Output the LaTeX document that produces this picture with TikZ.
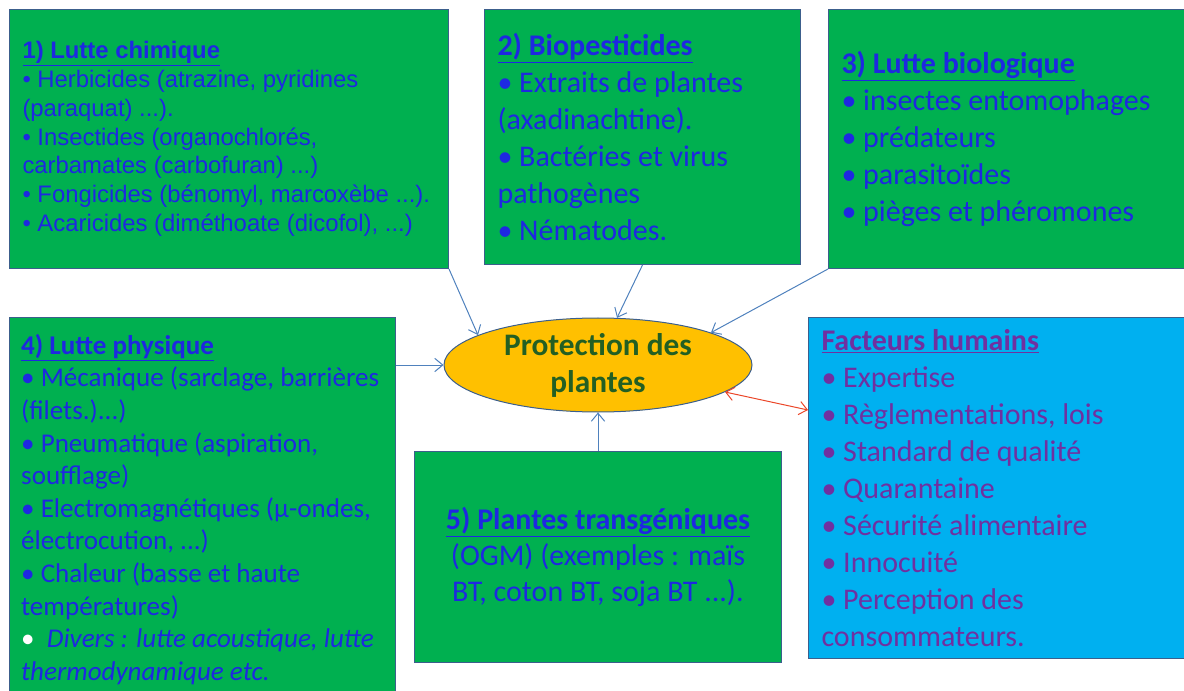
\documentclass[tikz,border=0pt]{standalone}
\usepackage{fontspec}
\setmainfont{Carlito}
\newfontfamily\arialfont{Liberation Sans}
\usetikzlibrary{shapes.geometric,arrows.meta,calc}
\definecolor{vertboite}{RGB}{0,176,80}
\definecolor{bordure}{RGB}{60,95,140}
\definecolor{bleutexte}{RGB}{30,40,225}
\definecolor{cyanboite}{RGB}{0,176,240}
\definecolor{violet}{RGB}{112,48,160}
\definecolor{orangeellipse}{RGB}{255,192,0}
\definecolor{vertfonce}{RGB}{35,95,35}
\definecolor{bleufleche}{RGB}{79,129,189}
\definecolor{rougefleche}{RGB}{235,70,40}
\tikzset{every picture/.style={line width=0.75pt}}
\tikzset{
	boite/.style={draw=bordure, fill=vertboite, anchor=north west, inner xsep=9.75pt, inner ysep=0pt, align=flush left, text=bleutexte},
	pointe/.tip={Straight Barb[length=6pt,width=10pt]},
	fleche/.style={draw=bleufleche, line width=0.75pt, -pointe}}

\begin{document}
\begin{tikzpicture}[x=0.75pt,y=0.75pt,yscale=-1,xscale=1]
	\useasboundingbox (0,0) rectangle (1184,691);

	%Shape: Rectangle [1) Lutte chimique]
	\node [boite, text width=309.75pt, minimum height=194.25pt, font=\arialfont\fontsize{17.9}{21.6}\selectfont] (chim) at (9,9) {\underline{\textbf{1) Lutte chimique}}\\
		• Herbicides (atrazine, pyridines\\
		(paraquat) ...).\\
		• Insectides (organochlorés,\\
		carbamates (carbofuran) ...)\\
		• Fongicides (bénomyl, marcoxèbe ...).\\
		• Acaricides (diméthoate (dicofol), ...)};
	%Shape: Rectangle [2) Biopesticides]
	\node [boite, text width=217.5pt, minimum height=191.25pt, font=\fontsize{22.5}{27.75}\selectfont] (biop) at (484,9) {\underline{\textbf{2) Biopesticides}}\\
		• Extraits de plantes\\
		(axadinachtine).\\
		• Bactéries et virus\\
		pathogènes\\
		• Nématodes.};
	%Shape: Rectangle [3) Lutte biologique]
	\node [boite, text width=255.75pt, minimum height=194.25pt, font=\fontsize{22.5}{27.75}\selectfont] (biol) at (828,9) {\underline{\textbf{3) Lutte biologique}}\\
		• insectes entomophages\\
		• prédateurs\\
		• parasitoïdes\\
		• pièges et phéromones};
	%Shape: Rectangle [4) Lutte physique]
	\node [boite, inner xsep=8.75pt, text width=272pt, minimum height=288pt, font=\fontsize{20.3}{24.45}\selectfont] (phys) at (9,317) {\underline{\textbf{4) Lutte physique}}\\
		• Mécanique (sarclage, barrières\\
		(filets.)...)\\
		• Pneumatique (aspiration,\\
		soufflage)\\
		• Electromagnétiques (µ-ondes,\\
		électrocution, ...)\\
		• Chaleur (basse et haute\\
		températures)\\
		{\color{white}•}\ \ \textit{Divers : lutte acoustique, lutte}\\
		\textit{thermodynamique etc.}};
	%Shape: Rectangle [5) Plantes transgéniques]
	\node [boite, align=flush center, text width=255.75pt, minimum height=158.25pt, font=\fontsize{22.5}{27}\selectfont] (ogm) at (414,451) {\underline{\textbf{5) Plantes transgéniques}}\\
		(OGM) (exemples : maïs\\
		BT, coton BT, soja BT ...).};
	%Shape: Rectangle [Facteurs humains]
	\node [boite, fill=cyanboite, text=violet, text width=270.75pt, minimum height=255.75pt, font=\fontsize{22.5}{27.7}\selectfont] (hum) at (808,317) {\underline{\textbf{Facteurs humains}}\\
		• Expertise\\
		• Règlementations, lois\\
		• Standard de qualité\\
		• Quarantaine\\
		• Sécurité alimentaire\\
		• Innocuité\\
		• Perception des\\
		consommateurs.};
	%Shape: Ellipse [Protection des plantes]
	\node [ellipse, draw=bordure, fill=orangeellipse, minimum width=231pt, minimum height=70.5pt, inner sep=0pt, align=center, text=vertfonce, font=\bfseries\fontsize{23.5}{27.75}\selectfont] (prot) at (598,365) {Protection des\\plantes};

	%Straight Lines
	\draw [fleche] (chim.south east) -- (prot.166);
	\draw [fleche] (biop.south) -- (prot.68);
	\draw [fleche] (biol.south west) -- (prot.16);
	\draw [fleche] (phys.east |- prot.west) -- (prot.west);
	\draw [fleche] (ogm.north) -- (prot.south);
	\draw [draw=rougefleche, pointe-pointe] (prot.-12) -- ($(hum.north west)+(0,93)$);

\end{tikzpicture}
\end{document}
